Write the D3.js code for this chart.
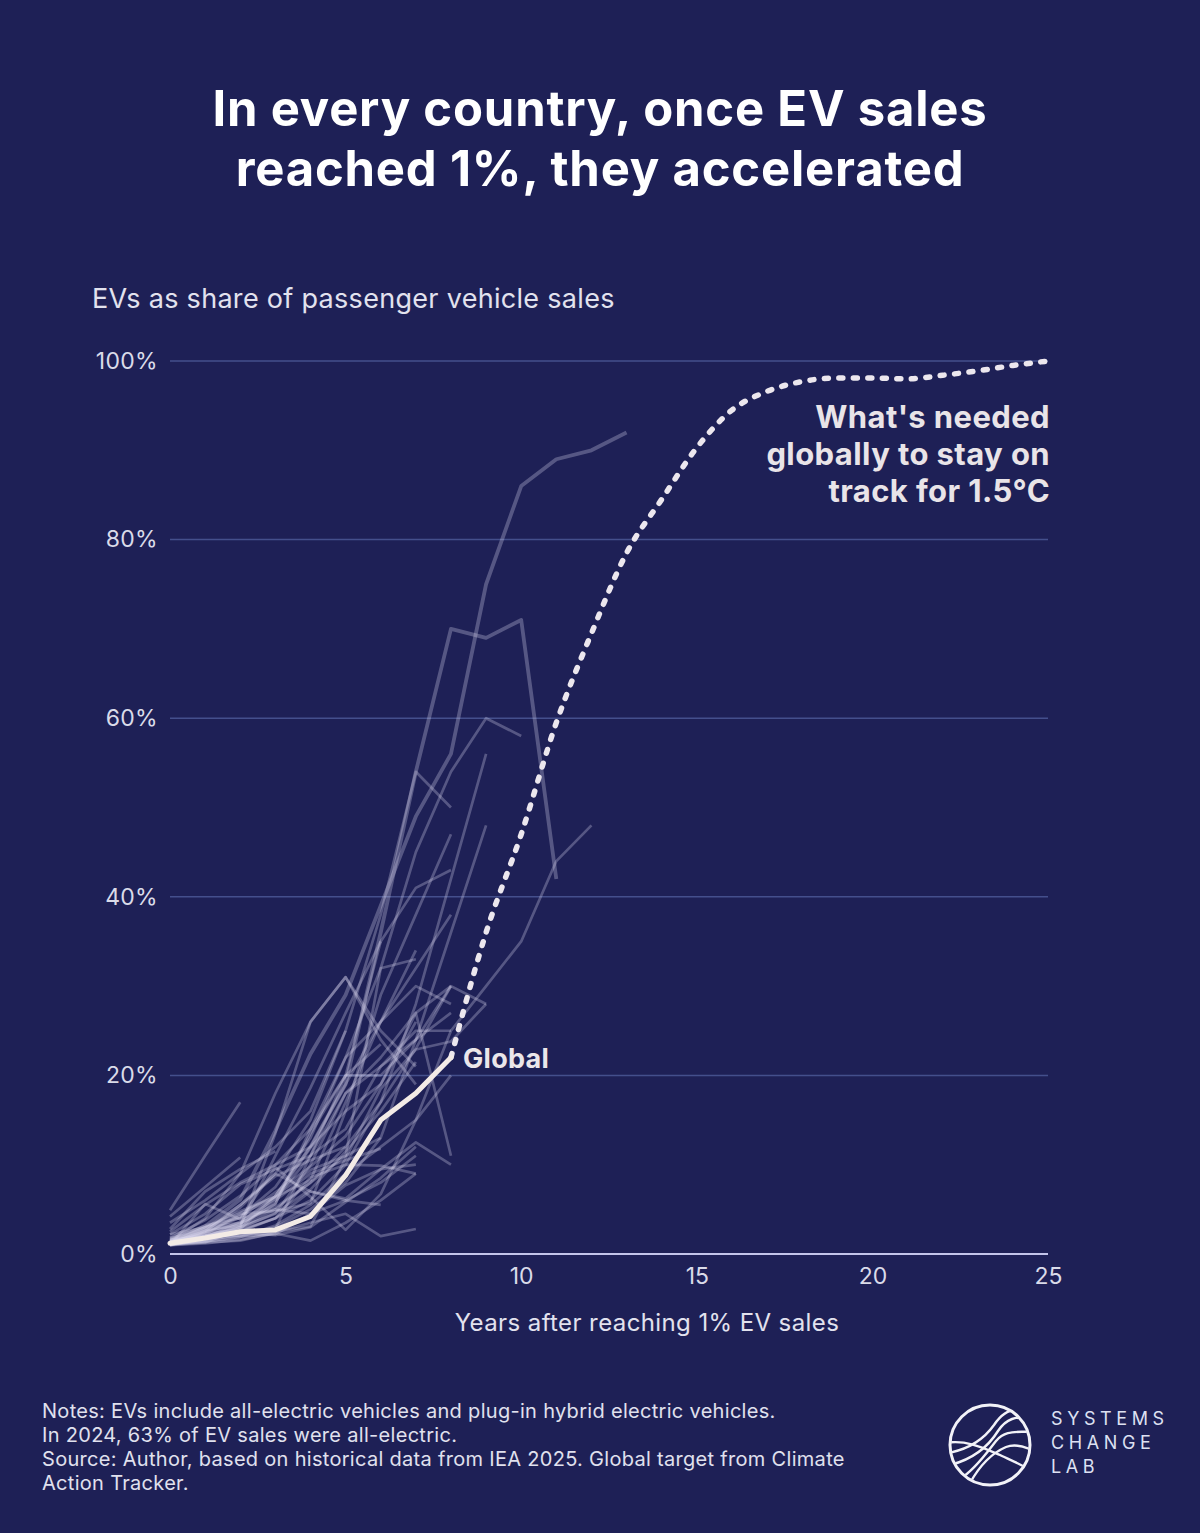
<!DOCTYPE html>
<html>
<head>
<meta charset="utf-8">
<script src="https://cdn.jsdelivr.net/npm/d3@7"></script>
<style>
  body { margin: 0; background: #1e2056; }
  text { font-family: Inter, "Noto Sans", sans-serif; }
</style>
</head>
<body>
<div id="chart"></div>
<script>
// ---- data ----
var titleLines = ["In every country, once EV sales", "reached 1%, they accelerated"];
var yTicks = [0, 20, 40, 60, 80, 100];
var xTicks = [0, 5, 10, 15, 20, 25];

// one array per country: EV share (%) for year 0, 1, 2 ... after reaching 1%
var countryLines = [
    [1.6, 3.1, 6.1, 13.8, 22.4, 29, 39, 49, 56, 75, 86, 89, 90, 92],
    [1.4, 2.9, 4.5, 6.4, 12, 19, 36, 54, 70, 69, 71, 42],
    [1.2, 2.6, 5.2, 9, 15, 25, 38, 54, 50],
    [1.5, 2.4, 3.5, 5.2, 8, 11, 32, 45, 54, 60, 58],
    [1.0, 1.8, 2.6, 4, 6, 10, 17, 28, 42, 56],
    [1.1, 1.5, 2.2, 3, 5, 8, 13, 24, 36, 48],
    [1.0, 5.6, 3.9, 9.7, 6.4, 2.7, 6.7, 15, 25, 30, 35, 44, 48],
    [1.2, 2.1, 3.6, 6.2, 11, 20, 35, 41, 43],
    [1.3, 2.5, 4.2, 7.5, 13, 22, 32, 33],
    [1.1, 1.8, 3, 5, 8, 12, 17, 23, 30, 28],
    [1.2, 2, 3, 4.5, 10, 18, 22, 27, 11],
    [4.9, 11, 17],
    [1.4, 4, 9, 18, 26, 31, 25, 21],
    [1.6, 2, 3, 13.5, 26, 31, 24, 19],
    [1.4, 1.7, 2.1, 2.8, 11, 18, 21, 25, 25],
    [1.1, 1.4, 1.9, 2.5, 3.1, 10.7, 18.5, 22.9, 23.8, 28],
    [1.4, 2.2, 4.5, 4.8, 5.7, 16, 29, 38, 47],
    [1.2, 2.1, 2, 2.2, 4.5, 7.7, 9.5, 10],
    [2.2, 3, 3.5, 6.5, 9.4, 11, 13],
    [1.4, 2.3, 2.7, 4, 8.6, 10, 9.9, 9],
    [1.8, 2.7, 3.2, 5.6, 14, 22, 26, 30, 28],
    [1.2, 1.9, 3.4, 5.6, 13.5, 20, 20, 24, 30],
    [1.3, 2.6, 3.2, 11, 18.6, 27, 35],
    [1.1, 1.4, 1.9, 3.2, 5.5, 9, 12, 15, 20],
    [1.0, 1.2, 1.6, 2.3, 1.5, 3.5, 6, 9],
    [1.3, 1.7, 2.4, 2.1, 3, 5.8, 8.5, 12],
    [2.2, 4.5, 7.8, 9.5, 11, 14, 21, 24, 27],
    [3.5, 6, 9, 12, 16, 25],
    [1.0, 2.5, 5.5, 8.7, 10.5, 12],
    [1.2, 2, 3.2, 6, 9, 10.5, 11.8],
    [1.5, 3.2, 4, 5, 4.5, 6, 8, 11],
    [2.5, 5.5, 8, 10, 12, 19, 26, 32, 38],
    [1.1, 1.3, 1.5, 2.4, 3.5, 4.5, 2, 2.8],
    [1.0, 1.6, 2.5, 4, 7, 6, 5.5],
    [1.8, 3.8, 6.5, 10, 14, 20, 23.5],
    [1.2, 2.8, 5.5, 9, 7, 6.2, 9.5, 12.5, 10],
    [2.8, 7, 9.5, 11.5],
    [1.3, 3, 4.8, 6.4, 8.3, 17, 26, 34],
    [1.0, 1.3, 2.8, 6.5, 12, 16, 19, 27, 30],
    [4.2, 7.5, 10.8],
    [1.1, 2.4, 4.1, 6.9, 9.8, 13.2, 19, 26],
    [1.3, 1.9, 2.9, 4.6, 7.2, 11.5, 16, 21.5]
];

var globalValues = [1.2, 1.8, 2.5, 2.7, 4.2, 8.8, 15, 18, 22];

var targetYears  = [8, 9, 10, 11, 12, 13, 14, 15, 16, 17, 18, 19, 20, 21, 22, 23, 24, 25];
var targetValues = [22, 36, 47, 59.5, 69.5, 78.5, 84.5, 90.3, 94.5, 96.6, 97.7, 98.1, 98.1, 98.0, 98.4, 98.9, 99.5, 100];

var targetLabel = ["What's needed", "globally to stay on", "track for 1.5°C"];
var noteLines = [
    "Notes: EVs include all-electric vehicles and plug-in hybrid electric vehicles.",
    "In 2024, 63% of EV sales were all-electric.",
    "Source: Author, based on historical data from IEA 2025. Global target from Climate",
    "Action Tracker."
];
var logoWords = ["SYSTEMS", "CHANGE", "LAB"];

// ---- layout ----
var W = 1200, H = 1533;
var margin = {top: 361, right: 152, bottom: 279, left: 170};
var width = W - margin.left - margin.right,
    height = H - margin.top - margin.bottom;

var svg = d3.select("#chart")
    .append("svg")
    .attr("width", W)
    .attr("height", H);

svg.append("rect")
    .attr("width", W).attr("height", H)
    .attr("fill", "#1e2056");

// title
svg.selectAll(".title")
    .data(titleLines)
    .enter()
    .append("text")
    .attr("class", "title")
    .attr("x", 600)
    .attr("y", function(d, i) { return 126 + i * 60; })
    .attr("text-anchor", "middle")
    .style("font-size", "49px")
    .style("letter-spacing", "0.8px")
    .style("font-weight", 700)
    .style("fill", "#ffffff")
    .text(function(d) { return d; });

// y label
svg.append("text")
    .attr("x", 92)
    .attr("y", 308)
    .style("font-size", "27px")
    .style("letter-spacing", "0.3px")
    .style("fill", "#e2e2ee")
    .text("EVs as share of passenger vehicle sales");

var g = svg.append("g")
    .attr("transform", "translate(" + margin.left + "," + margin.top + ")");

var x = d3.scaleLinear().domain([0, 25]).range([0, width]);
var y = d3.scaleLinear().domain([0, 100]).range([height, 0]);

// grid lines
g.selectAll(".grid")
    .data(yTicks.filter(function(d) { return d > 0; }))
    .enter()
    .append("line")
    .attr("class", "grid")
    .attr("x1", 0).attr("x2", width)
    .attr("y1", function(d) { return y(d); })
    .attr("y2", function(d) { return y(d); })
    .attr("stroke", "#444f8c")
    .attr("stroke-width", 1.5);

// y axis labels
var yAxis = d3.axisLeft(y).tickValues(yTicks).tickSize(0).tickPadding(12)
    .tickFormat(function(d) { return d + "%"; });
g.append("g").attr("class", "y-axis").call(yAxis)
    .call(function(a) { a.select(".domain").remove(); })
    .selectAll("text")
    .style("font-family", "Inter, 'Noto Sans', sans-serif")
    .style("font-size", "23px")
    .style("letter-spacing", "0.3px")
    .style("fill", "#dadbe9");

// x axis
var xAxis = d3.axisBottom(x).tickValues(xTicks).tickSize(0).tickPadding(14);
g.append("g").attr("class", "x-axis")
    .attr("transform", "translate(0," + height + ")")
    .call(xAxis)
    .call(function(a) { a.select(".domain").remove(); })
    .selectAll("text")
    .style("font-family", "Inter, 'Noto Sans', sans-serif")
    .style("font-size", "23px")
    .style("fill", "#dadbe9");

g.append("text")
    .attr("x", 477)
    .attr("y", height + 77)
    .attr("text-anchor", "middle")
    .style("font-size", "24px")
    .style("letter-spacing", "0.4px")
    .style("fill", "#e2e2ee")
    .text("Years after reaching 1% EV sales");

// country lines
var line = d3.line()
    .x(function(d, i) { return x(i); })
    .y(function(d) { return y(d); });

g.selectAll(".country")
    .data(countryLines)
    .enter()
    .append("path")
    .attr("class", "country")
    .attr("d", line)
    .attr("fill", "none")
    .attr("stroke", "#d9d6ef")
    .attr("stroke-opacity", 0.3)
    .attr("stroke-width", function(d, i) { return i < 2 ? 3.8 : 2.7; })
    .attr("stroke-linejoin", "round");

// base line at 0%
g.append("line")
    .attr("x1", 0).attr("x2", width)
    .attr("y1", y(0)).attr("y2", y(0))
    .attr("stroke", "#c3c4ea")
    .attr("stroke-width", 2);

// target path (dotted)
var targetLine = d3.line()
    .x(function(d, i) { return x(targetYears[i]); })
    .y(function(d) { return y(d); })
    .curve(d3.curveMonotoneX);

g.append("path")
    .datum(targetValues)
    .attr("d", targetLine)
    .attr("fill", "none")
    .attr("stroke", "#ece7ee")
    .attr("stroke-width", 5.5)
    .attr("stroke-linecap", "round")
    .attr("stroke-dasharray", "4 10.5");

// global line
g.append("path")
    .datum(globalValues)
    .attr("d", line)
    .attr("fill", "none")
    .attr("stroke", "#f3ebe6")
    .attr("stroke-width", 5)
    .attr("stroke-linecap", "round")
    .attr("stroke-linejoin", "round");

g.append("text")
    .attr("x", x(globalValues.length - 1) + 12)
    .attr("y", y(globalValues[globalValues.length - 1]) + 10)
    .style("font-size", "27px")
    .style("letter-spacing", "0.3px")
    .style("font-weight", 700)
    .style("fill", "#ebe6ea")
    .text("Global");

g.selectAll(".target-label")
    .data(targetLabel)
    .enter()
    .append("text")
    .attr("class", "target-label")
    .attr("x", width + 2)
    .attr("y", function(d, i) { return 67 + i * 37; })
    .attr("text-anchor", "end")
    .style("font-size", "31px")
    .style("letter-spacing", "0.4px")
    .style("font-weight", 700)
    .style("fill", "#e9e4e8")
    .text(function(d) { return d; });

// notes
svg.selectAll(".note")
    .data(noteLines)
    .enter()
    .append("text")
    .attr("class", "note")
    .attr("x", 42)
    .attr("y", function(d, i) { return 1418 + i * 24; })
    .style("font-size", "20px")
    .style("letter-spacing", "0.3px")
    .style("fill", "#e0e1ee")
    .text(function(d) { return d; });

// logo
var logo = svg.append("g").attr("transform", "translate(990,1445)");
logo.append("clipPath").attr("id", "logo-clip")
    .append("circle").attr("r", 39);
logo.append("circle")
    .attr("r", 40)
    .attr("fill", "none")
    .attr("stroke", "#f2f2f8")
    .attr("stroke-width", 3);
var swirls = [
    "M-42,8 C-20,4 -6,-6 4,-20 C12,-32 22,-38 34,-34",
    "M-40,20 C-16,14 -2,2 8,-14 C16,-26 26,-30 42,-26",
    "M-30,34 C-14,24 -2,6 6,-4 C16,-16 28,-12 44,-14",
    "M-20,38 C-10,20 2,8 16,2 C26,-2 36,2 44,6",
    "M-44,-2 C-24,-6 -4,4 10,10 C22,16 34,20 44,28"
];
logo.append("g").attr("clip-path", "url(#logo-clip)")
    .selectAll("path")
    .data(swirls)
    .enter()
    .append("path")
    .attr("d", function(d) { return d; })
    .attr("fill", "none")
    .attr("stroke", "#f2f2f8")
    .attr("stroke-width", 2.4);

svg.selectAll(".logo-word")
    .data(logoWords)
    .enter()
    .append("text")
    .attr("class", "logo-word")
    .attr("x", 1051)
    .attr("y", function(d, i) { return 1425 + i * 24; })
    .style("font-size", "18px")
    .style("letter-spacing", "4.6px")
    .style("fill", "#dde0f2")
    .text(function(d) { return d; });
</script>
</body>
</html>
